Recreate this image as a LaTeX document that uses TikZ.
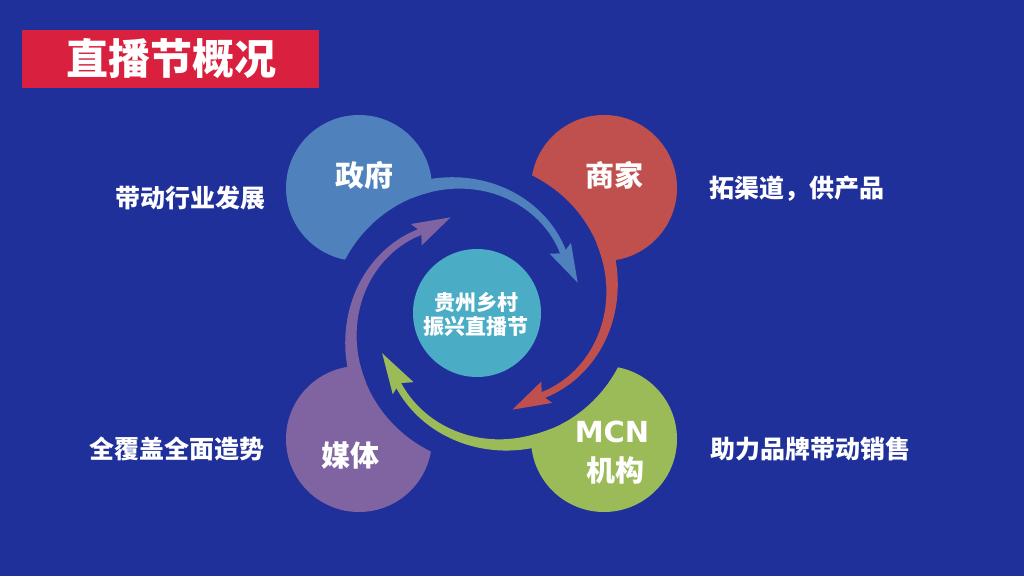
\documentclass[tikz,border=0pt]{standalone}
\usepackage{fontspec}
\setmainfont{Noto Sans CJK SC}
\newfontfamily\latinbold{DejaVu Sans}
\definecolor{bgc}{HTML}{1F309B}
\definecolor{titlered}{HTML}{D9213F}
\definecolor{cblue}{HTML}{4F81BD}
\definecolor{cred}{HTML}{C0504D}
\definecolor{cgreen}{HTML}{9BBB59}
\definecolor{cpurple}{HTML}{8064A2}
\definecolor{cteal}{HTML}{4BACC6}
\newcommand\cutwedge[1]{%
  \fill[bgc] (0,0) -- plot[domain=-15:60,samples=50] ({#1+\x}:{131+0.37*(\x)-0.0009*(\x)*(\x)}) -- cycle;}
\newcommand\spiralarrow[4]{% #1 start angle, #2 colour, #3 radial growth, #4 angular shift of head
  \fill[#2] plot[domain=10:{-75+#4},samples=60] ({#1+\x}:{144+0.52*(\x)+#3*max(0,0-(\x))/75})
     -- plot[domain={-75+#4}:10,samples=60] ({#1+\x}:{131+0.37*(\x)-0.0009*(\x)*(\x)+#3*max(0,0-(\x))/75}) -- cycle;
  \fill[#2] ({#1-72.7+#4}:{114+#3}) -- ({#1-93.2+#4}:{101+#3}) -- ({#1-69.7+#4}:{90.6+#3})
     -- ({#1-74.6+#4}:{101.5+#3}) -- cycle;}
\tikzset{
  disc/.style={circle,inner sep=0pt,minimum size=146pt},
  lbl/.style={inner sep=0pt,text=white,font=\bfseries\fontsize{29}{32}\selectfont},
  side/.style={inner sep=0pt,text=white,font=\bfseries\fontsize{25}{28}\selectfont},
  mid/.style={inner sep=0pt,text=white,font=\bfseries\fontsize{21}{24}\selectfont},
}
\begin{document}
\begin{tikzpicture}[x=1pt,y=1pt]
\useasboundingbox (0,0) rectangle (1024,576);
\fill[bgc] (0,0) rectangle (1024,576);
% title
\node[fill=titlered,minimum width=297pt,minimum height=58pt,inner sep=0pt] (titlebox) at (170.5,517) {};
\node[inner sep=0pt,text=white,font=\bfseries\fontsize{42}{46}\selectfont] (title) at (171,517) {直播节概况};
% corner discs
\node[disc,fill=cblue] (gov) at (359,388) {};
\node[disc,fill=cred] (biz) at (604,388) {};
\node[disc,fill=cpurple] (media) at (359,137) {};
\node[disc,fill=cgreen] (mcn) at (604,137) {};
% cut-outs and spiral arrows
\begin{scope}[shift={(481.5,262.5)}]
  \cutwedge{111}
  \cutwedge{21}
  \cutwedge{-69}
  \cutwedge{-159}
  \spiralarrow{111}{cblue}{0}{0}
  \spiralarrow{21}{cred}{0}{0}
  \spiralarrow{-69}{cgreen}{6}{4}
  \spiralarrow{-159}{cpurple}{0}{0}
\end{scope}
% centre
\node[circle,fill=cteal,inner sep=0pt,minimum size=128pt] (hub) at (477,263) {};
\node[mid] (hub1) at (476,274) {贵州乡村};
\node[mid] (hub2) at (475.5,249) {振兴直播节};
% disc labels
\node[lbl] (govt) at (364,401) {政府};
\node[lbl] (bizt) at (614,401) {商家};
\node[lbl] (mediat) at (350,121) {媒体};
\node[lbl,font=\latinbold\bfseries\fontsize{29}{32}\selectfont] (mcnt1) at (612,144) {MCN};
\node[lbl] (mcnt2) at (615,106) {机构};
% side labels
\node[side] (s1) at (190,377.5) {带动行业发展};
\node[side] (s2) at (797,387) {拓渠道，供产品};
\node[side] (s3) at (176.5,127) {全覆盖全面造势};
\node[side] (s4) at (810.5,127) {助力品牌带动销售};
\end{tikzpicture}
\end{document}
